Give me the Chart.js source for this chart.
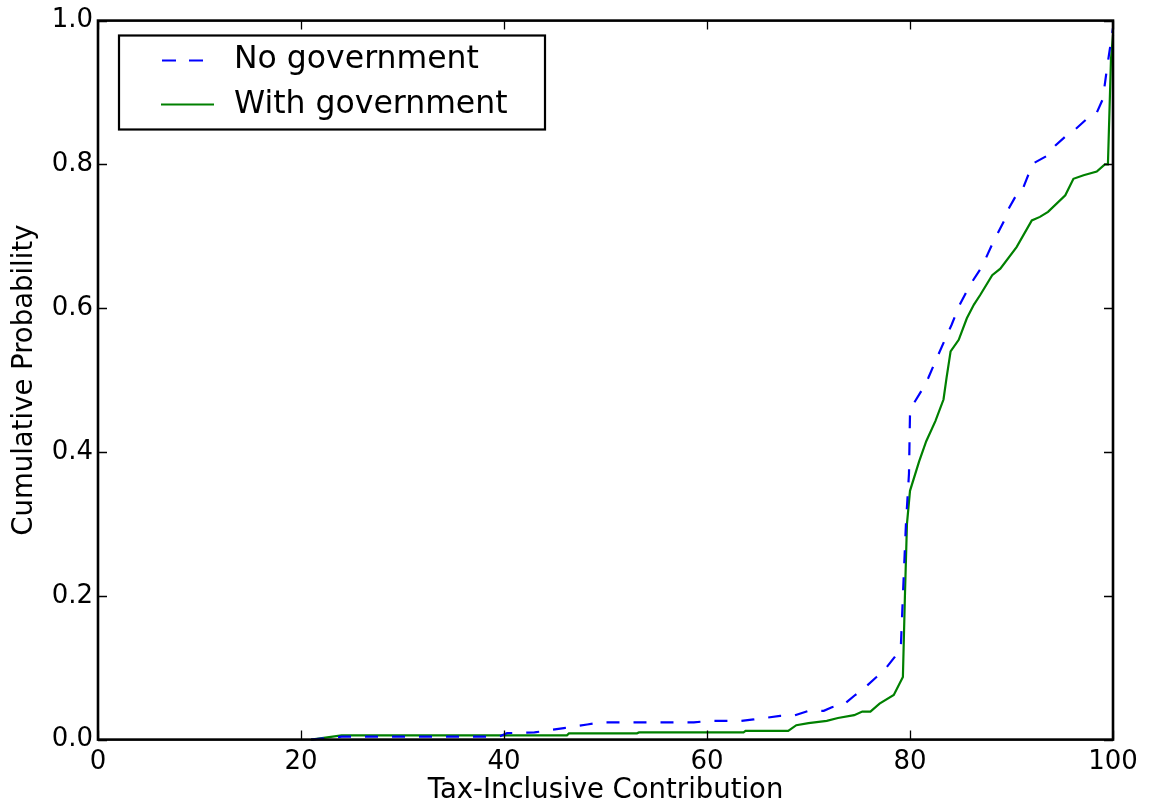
<!DOCTYPE html>
<html>
<head>
<meta charset="utf-8">
<script src="https://cdn.jsdelivr.net/npm/chart.js@4/dist/chart.umd.min.js"></script>
<style>
  html, body { margin: 0; padding: 0; background: #fff; }
  canvas { display: block; }
</style>
</head>
<body>
<canvas id="cdf" width="1149" height="811"></canvas>
<script>
// Cumulative distribution of tax-inclusive contributions
const noGovX = [21, 24, 39.5, 40.3, 43, 45.9, 48.2, 49.6, 58.7, 60.3, 63.3, 64.6, 67.2, 68.5, 70, 71.5,
  72.3, 73.4, 74.6, 75.6, 76.7, 77.6, 78.5, 79.1, 79.3, 79.6, 79.9, 80.0, 80.3, 81.3, 81.8, 82.5, 83.5,
  84.1, 84.9, 85.9, 87.1, 88.2, 89.4, 89.7, 90.5, 91.0, 91.5, 92.1, 93.5, 94.3, 95.4, 96.3, 97.4, 98.4,
  99.0, 99.4, 100];
const noGovY = [0, 0.004, 0.004, 0.009, 0.010, 0.016, 0.021, 0.024, 0.024, 0.026, 0.026, 0.028, 0.033,
  0.033, 0.040, 0.040, 0.045, 0.048, 0.062, 0.073, 0.087, 0.099, 0.115, 0.130, 0.200, 0.300, 0.370, 0.453,
  0.466, 0.489, 0.503, 0.526, 0.558, 0.577, 0.605, 0.632, 0.658, 0.692, 0.725, 0.738, 0.758, 0.762, 0.780,
  0.801, 0.812, 0.826, 0.840, 0.849, 0.863, 0.872, 0.891, 0.933, 0.990];

const withGovX = [21, 24, 46.2, 46.4, 53.1, 53.3, 63.6, 63.8, 68.0, 68.8, 70, 71.8, 72.9, 74.5, 75.3, 76.1,
  77.0, 78.4, 79.3, 79.5, 79.7, 80.0, 80.9, 81.6, 82.5, 83.3, 83.6, 84.0, 84.8, 85.6, 86.3, 86.9, 88.1,
  88.9, 90.5, 92.0, 92.8, 93.6, 95.3, 96.1, 97.1, 98.4, 99.2, 99.5, 99.8, 100];
const withGovY = [0, 0.006, 0.006, 0.0087, 0.0087, 0.010, 0.010, 0.012, 0.012, 0.020, 0.023, 0.026, 0.030,
  0.034, 0.039, 0.039, 0.050, 0.062, 0.087, 0.200, 0.300, 0.346, 0.387, 0.415, 0.443, 0.473, 0.503, 0.540,
  0.556, 0.586, 0.605, 0.618, 0.646, 0.655, 0.685, 0.722, 0.727, 0.734, 0.757, 0.780, 0.785, 0.790, 0.800,
  0.800, 0.946, 0.980];

const xTicks = [0, 20, 40, 60, 80, 100];
const yTicks = [0.0, 0.2, 0.4, 0.6, 0.8, 1.0];

const seriesNames = ['No government', 'With government'];
const seriesColors = ['#0000ff', '#008000'];

const FONT = 'DejaVu Sans';
const toPoints = (xs, ys) => xs.map((x, i) => ({ x: x, y: ys[i] }));

// Axes frame, inward tick marks on all four sides, and the boxed legend
const framePlugin = {
  id: 'frame',
  afterDatasetsDraw(chart) {
    const { ctx, chartArea: { left, right, top, bottom }, scales: { x, y } } = chart;
    ctx.save();
    ctx.strokeStyle = '#000';
    ctx.lineWidth = 1.3;
    ctx.beginPath();
    xTicks.forEach(v => {
      const px = Math.round(x.getPixelForValue(v)) + 0.5;
      ctx.moveTo(px, bottom); ctx.lineTo(px, bottom - 9);
      ctx.moveTo(px, top); ctx.lineTo(px, top + 9);
    });
    yTicks.forEach(v => {
      const py = Math.round(y.getPixelForValue(v)) + 0.5;
      ctx.moveTo(left, py); ctx.lineTo(left + 9, py);
      ctx.moveTo(right, py); ctx.lineTo(right - 9, py);
    });
    ctx.stroke();
    ctx.lineWidth = 2.6;
    ctx.strokeRect(left, top, right - left, bottom - top);

    // legend
    const bx = 119, by = 35.5, bw = 426, bh = 94;
    ctx.fillStyle = '#fff';
    ctx.fillRect(bx, by, bw, bh);
    ctx.lineWidth = 2.2;
    ctx.strokeRect(bx, by, bw, bh);
    const rows = [60.5, 104.5];
    const baselines = [68, 112.5];
    rows.forEach((ry, i) => {
      ctx.strokeStyle = seriesColors[i];
      ctx.lineWidth = 2.2;
      ctx.setLineDash(i === 0 ? [14, 13] : []);
      ctx.beginPath();
      ctx.moveTo(i === 0 ? 162 : 161, ry);
      ctx.lineTo(214, ry);
      ctx.stroke();
      ctx.setLineDash([]);
      ctx.fillStyle = '#000';
      ctx.font = '31.5px "' + FONT + '"';
      ctx.textBaseline = 'alphabetic';
      ctx.textAlign = 'left';
      ctx.fillText(seriesNames[i], 234, baselines[i]);
    });
    ctx.restore();
  }
};

new Chart(document.getElementById('cdf'), {
  type: 'line',
  data: {
    datasets: [
      {
        label: seriesNames[0],
        data: toPoints(noGovX, noGovY),
        borderColor: seriesColors[0],
        borderWidth: 2.2,
        borderDash: [13, 14],
        pointRadius: 0,
        tension: 0,
        fill: false,
        clip: false
      },
      {
        label: seriesNames[1],
        data: toPoints(withGovX, withGovY),
        borderColor: seriesColors[1],
        borderWidth: 2.2,
        pointRadius: 0,
        tension: 0,
        fill: false,
        clip: false
      }
    ]
  },
  options: {
    responsive: false,
    animation: false,
    events: [],
    layout: { padding: { top: 18, right: 36, left: 0, bottom: 0 } },
    plugins: {
      legend: { display: false },
      tooltip: { enabled: false }
    },
    scales: {
      x: {
        type: 'linear',
        min: 0,
        max: 100,
        afterBuildTicks: s => { s.ticks = xTicks.map(v => ({ value: v })); },
        afterFit: s => { s.height = 71.4; },
        grid: { display: false, drawTicks: false },
        border: { display: false },
        ticks: {
          color: '#000',
          font: { family: FONT, size: 26 },
          padding: 7,
          maxRotation: 0,
          autoSkip: false,
          callback: v => String(v)
        },
        title: {
          display: true,
          text: 'Tax-Inclusive Contribution',
          color: '#000',
          font: { family: FONT, size: 27.5 },
          padding: { top: 0, bottom: 3.5 }
        }
      },
      y: {
        type: 'linear',
        min: 0,
        max: 1,
        afterBuildTicks: s => { s.ticks = yTicks.map(v => ({ value: v })); },
        afterFit: s => { s.width = 98; },
        grid: { display: false, drawTicks: false },
        border: { display: false },
        ticks: {
          color: '#000',
          font: { family: FONT, size: 26 },
          padding: 5,
          autoSkip: false,
          callback: v => Number(v).toFixed(1)
        },
        title: {
          display: true,
          text: 'Cumulative Probability',
          color: '#000',
          font: { family: FONT, size: 27.5 },
          padding: { top: 8.5, bottom: 0 }
        }
      }
    }
  },
  plugins: [framePlugin]
});
</script>
</body>
</html>
